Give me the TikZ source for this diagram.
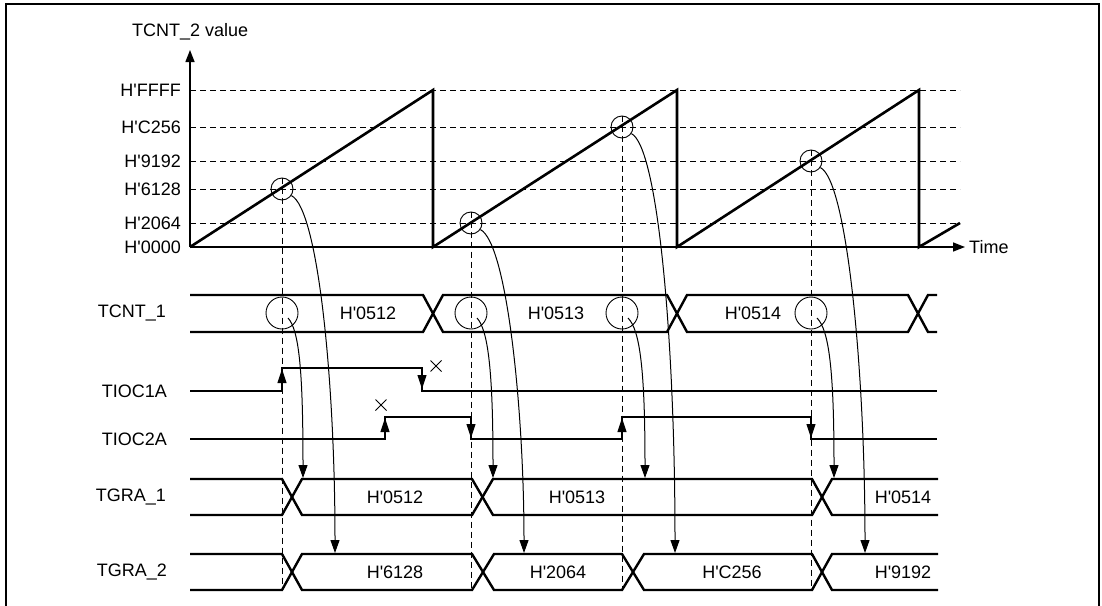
\documentclass[tikz,border=0pt]{standalone}
\usepackage{fontspec}
\setmainfont{Liberation Sans}[Ligatures=TeXOff]
\usetikzlibrary{arrows.meta}
\begin{document}
\begin{tikzpicture}[x=1pt,y=-1pt,
  lbl/.style={font=\fontsize{18}{20}\selectfont, inner sep=0pt},
  sig/.style={line width=2.4pt, line join=miter},
  ramp/.style={line width=2.6pt, line join=miter},
  axisln/.style={line width=1.4pt, -{Triangle[length=12pt,width=9pt]}},
  guide/.style={line width=0.9pt, dash pattern=on 6pt off 4pt},
  curvearr/.style={line width=1pt, -{Triangle[length=13pt,width=9pt]}},
  edgearr/.style={line width=1pt, -{Triangle[length=14pt,width=9pt]}},
  ring/.style={circle, draw, inner sep=0pt, line width=0.9pt},
  xmark/.style={line width=0.9pt}]
\useasboundingbox (0,0) rectangle (1102,605);
% frame
\draw[line width=2.6pt] (6,606) -- (6,4) -- (1099,4) -- (1099,606);

% value labels
\node[lbl, anchor=west] (ylabel) at (132,32) {TCNT\_2 value};
\node[lbl, anchor=east] (vFFFF) at (181,90) {H'FFFF};
\node[lbl, anchor=east] (vC256) at (181,127) {H'C256};
\node[lbl, anchor=east] (v9192) at (181,161) {H'9192};
\node[lbl, anchor=east] (v6128) at (181,189) {H'6128};
\node[lbl, anchor=east] (v2064) at (181,223) {H'2064};
\node[lbl, anchor=east] (v0000) at (181,247) {H'0000};
\node[lbl, anchor=west] (tlabel) at (969,247) {Time};

% dashed levels
\foreach \yy in {90,127,161,189,223} \draw[guide] (190,\yy) -- (960,\yy);

% axes
\coordinate (origin) at (190,247);
\coordinate (ytip) at (190,50);
\coordinate (xtip) at (965,247);
\draw[axisln] (origin) -- (ytip);
\draw[axisln] (origin) -- (xtip);

% sawtooth
\draw[ramp] (190,247) -- (433,90) -- (433,247) -- (677,90) -- (677,247) -- (919,90) -- (919,247) -- (960,223);

% compare-match circles on TCNT_2
\node[ring, minimum size=22pt] (m1) at (282,189) {};
\node[ring, minimum size=22pt] (m2) at (471,223) {};
\node[ring, minimum size=22pt] (m3) at (622,127) {};
\node[ring, minimum size=22pt] (m4) at (811,161) {};

% vertical guides
\draw[guide] (m1.north) -- (282,590);
\draw[guide] (m2.north) -- (471,590);
\draw[guide] (m3.north) -- (622,590);
\draw[guide] (m4.north) -- (811,590);

% row labels
\node[lbl, anchor=east] (rTCNT) at (166,313) {TCNT\_1};
\node[lbl, anchor=east] (rTIOC1) at (167,391) {TIOC1A};
\node[lbl, anchor=east] (rTIOC2) at (167,439) {TIOC2A};
\node[lbl, anchor=east] (rTGRA1) at (166,497) {TGRA\_1};
\node[lbl, anchor=east] (rTGRA2) at (167,572) {TGRA\_2};

% TCNT_1 bus
\draw[sig] (190,295)--(423,295)--(443,332)--(667,332)--(687,295)--(908,295)--(928,332)--(937,332);
\draw[sig] (190,332)--(423,332)--(443,295)--(667,295)--(687,332)--(908,332)--(928,295)--(937,295);
\node[lbl] (b1) at (368,313) {H'0512};
\node[lbl] (b2) at (556,313) {H'0513};
\node[lbl] (b3) at (753,313) {H'0514};
\node[ring, minimum size=32pt] (n1) at (282,313) {};
\node[ring, minimum size=32pt] (n2) at (471,313) {};
\node[ring, minimum size=32pt] (n3) at (622,313) {};
\node[ring, minimum size=32pt] (n4) at (811,313) {};

% TIOC1A
\draw[sig] (190,391) -- (282,391) -- (282,368) -- (422,368) -- (422,391) -- (937,391);
\draw[edgearr] (282,391) -- (282,369);
\draw[edgearr] (422,368) -- (422,389);
\draw[xmark] (430.5,360.5) -- (441.5,371.5) (430.5,371.5) -- (441.5,360.5);

% TIOC2A
\draw[sig] (190,439) -- (385,439) -- (385,417) -- (471,417) -- (471,439) -- (622,439) -- (622,417) -- (811,417) -- (811,439) -- (937,439);
\draw[edgearr] (385,439) -- (385,418);
\draw[edgearr] (471,417) -- (471,438);
\draw[edgearr] (622,439) -- (622,418);
\draw[edgearr] (811,417) -- (811,438);
\draw[xmark] (375.5,399.5) -- (386.5,410.5) (375.5,410.5) -- (386.5,399.5);

% TGRA_1 bus
\draw[sig] (190,479)--(282,479)--(302,515)--(472,515)--(493,479)--(812,479)--(832,515)--(938,515);
\draw[sig] (190,515)--(282,515)--(302,479)--(472,479)--(493,515)--(812,515)--(832,479)--(938,479);
\node[lbl] (g1a) at (395,497) {H'0512};
\node[lbl] (g1b) at (577,497) {H'0513};
\node[lbl] (g1c) at (903,497) {H'0514};

% TGRA_2 bus
\draw[sig] (190,554)--(282,554)--(302,590)--(472,590)--(494,554)--(622,554)--(644,590)--(812,590)--(832,554)--(938,554);
\draw[sig] (190,590)--(282,590)--(302,554)--(472,554)--(494,590)--(622,590)--(644,554)--(812,554)--(832,590)--(938,590);
\node[lbl] (g2a) at (395,572) {H'6128};
\node[lbl] (g2b) at (558,572) {H'2064};
\node[lbl] (g2c) at (732,572) {H'C256};
\node[lbl] (g2d) at (903,572) {H'9192};

% transfer arrows TCNT_2 -> TGRA_2
\coordinate (t1) at (335,553);
\coordinate (t2) at (524,553);
\coordinate (t3) at (675,553);
\coordinate (t4) at (865,553);
\draw[curvearr] (m1.-35) .. controls (318,209) and (335,380) .. (t1);
\draw[curvearr] (m2.-35) .. controls (507,243) and (524,410) .. (t2);
\draw[curvearr] (m3.-35) .. controls (658,147) and (675,340) .. (t3);
\draw[curvearr] (m4.-35) .. controls (847,181) and (865,370) .. (t4);

% transfer arrows TCNT_1 -> TGRA_1
\coordinate (s1) at (288,318);
\coordinate (s2) at (477,318);
\coordinate (s3) at (628,318);
\coordinate (s4) at (817,318);
\coordinate (u1) at (303,478);
\coordinate (u2) at (493,478);
\coordinate (u3) at (645,478);
\coordinate (u4) at (834,478);
\draw[curvearr] (s1) .. controls (299,330) and (303,370) .. (u1);
\draw[curvearr] (s2) .. controls (488,330) and (493,370) .. (u2);
\draw[curvearr] (s3) .. controls (640,330) and (645,370) .. (u3);
\draw[curvearr] (s4) .. controls (829,330) and (834,370) .. (u4);
\end{tikzpicture}
\end{document}
